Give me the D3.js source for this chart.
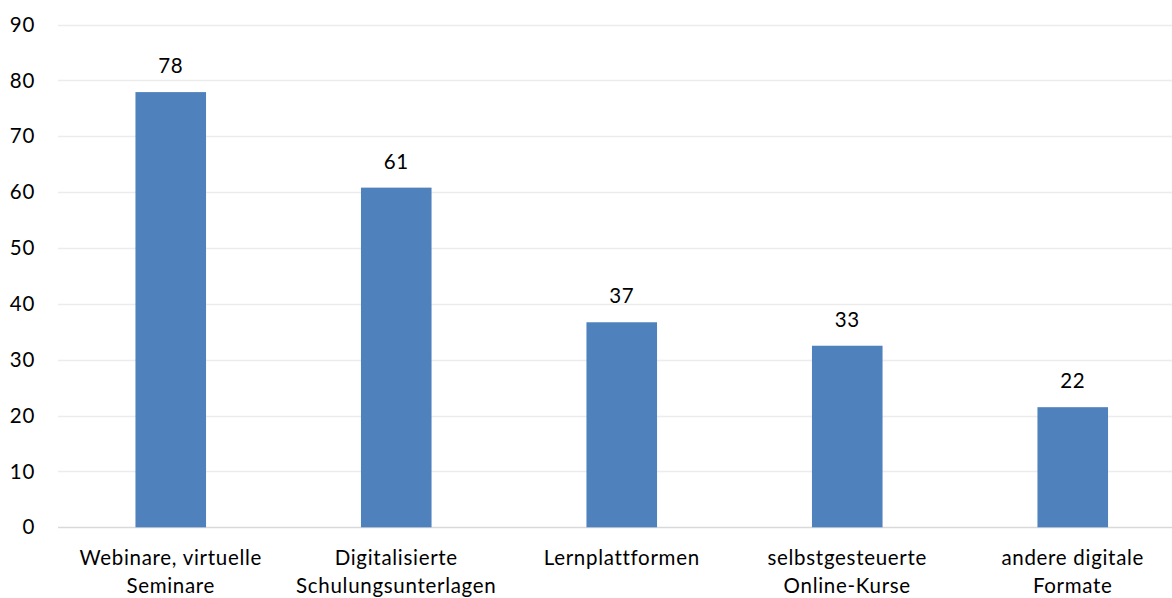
<!DOCTYPE html>
<html><head><meta charset="utf-8">
<script src="https://cdn.jsdelivr.net/npm/d3@7"></script>
<style>html,body{margin:0;padding:0;background:#fff;overflow:hidden}</style>
</head><body>
<svg id="chart" width="1172" height="598"></svg>
<script>
const categories = [["Webinare, virtuelle","Seminare"],["Digitalisierte","Schulungsunterlagen"],["Lernplattformen"],["selbstgesteuerte","Online-Kurse"],["andere digitale","Formate"]];
const values = [77.9, 60.8, 36.7, 32.5, 21.5];
const labels = ["78","61","37","33","22"];
const yTicks = [0,10,20,30,40,50,60,70,80,90];

const svg = d3.select("#chart");
const font = "Lato, 'Open Sans', sans-serif";
const fs = 20.5, ls = 0.7;
const x = d3.scaleBand().domain(d3.range(values.length)).range([58, 1185.5]).paddingInner(0.687).paddingOuter(0.3435);
const y = d3.scaleLinear().domain([0, 90]).range([527.3, 24.5]);

// gridlines
svg.append("g").selectAll("line").data(yTicks).join("line")
  .attr("x1", 58).attr("x2", 1186)
  .attr("y1", d => Math.round(y(d)) + 0.5).attr("y2", d => Math.round(y(d)) + 0.5)
  .attr("stroke", d => d === 0 ? "#d9d9d9" : "#ececec").attr("stroke-width", d => d===0?1.5:1.3);

// y labels
svg.append("g").selectAll("text").data(yTicks).join("text")
  .attr("x", 35).attr("y", d => y(d)).attr("dy", "0.35em")
  .attr("text-anchor", "end").attr("font-family", font).attr("font-size", fs).attr("letter-spacing", ls).attr("fill", "#000")
  .text(d => d);

// bars
svg.append("g").selectAll("rect").data(values).join("rect")
  .attr("x", (d,i) => x(i)).attr("width", x.bandwidth())
  .attr("y", d => y(d)).attr("height", d => y(0) - y(d))
  .attr("fill", "#4f81bd");

// value labels
svg.append("g").selectAll("text").data(values).join("text")
  .attr("x", (d,i) => x(i) + x.bandwidth()/2).attr("y", d => y(d) - 19)
  .attr("text-anchor", "middle").attr("font-family", font).attr("font-size", fs).attr("letter-spacing", ls).attr("fill", "#000")
  .text((d,i) => labels[i]);

// category labels
const cg = svg.append("g").selectAll("text").data(categories).join("text")
  .attr("text-anchor", "middle").attr("font-family", font).attr("font-size", fs).attr("letter-spacing", ls).attr("fill", "#000")
  .attr("transform", (d,i) => `translate(${x(i) + x.bandwidth()/2},565)`);
cg.selectAll("tspan").data(d => d).join("tspan")
  .attr("x", 0).attr("y", (d,j) => j*28).text(d => d);
</script>
</body></html>
